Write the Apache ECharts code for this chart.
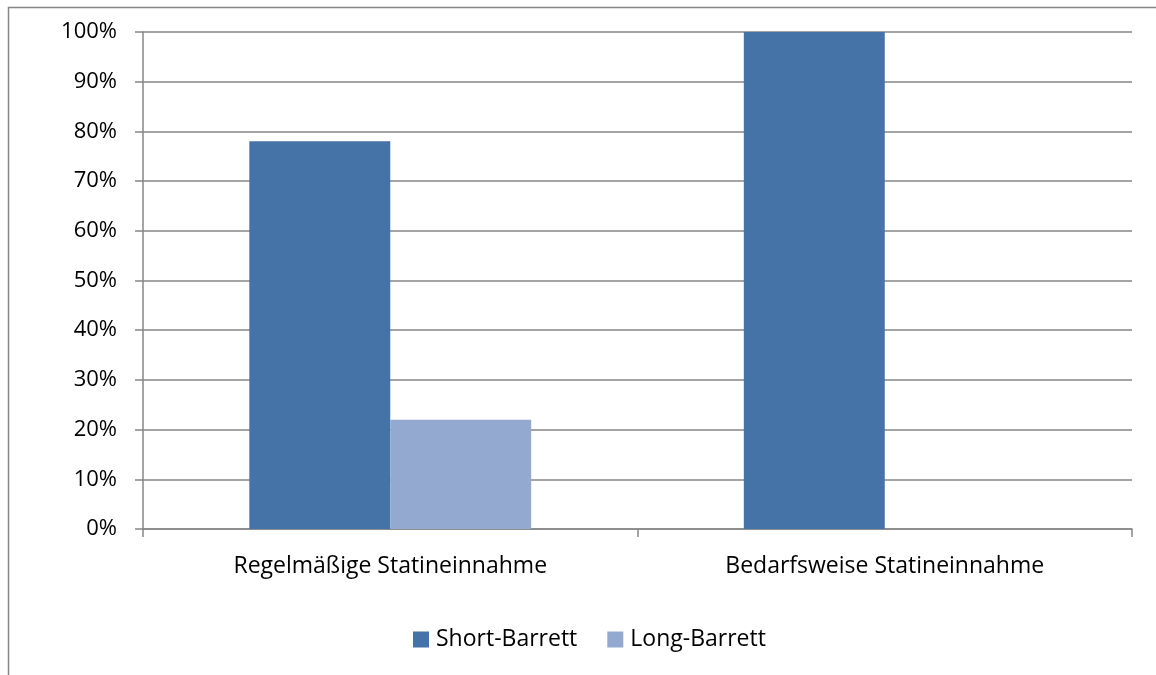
<!DOCTYPE html>
<html>
<head>
<meta charset="utf-8">
<script src="https://cdn.jsdelivr.net/npm/echarts@6/dist/echarts.min.js"></script>
<style>
  html, body { margin: 0; padding: 0; background: #fff; }
  #chart { width: 1156px; height: 675px; }
</style>
</head>
<body>
<div id="chart"></div>
<script>
// Statineinnahme nach Barrett-Typ (Anteil in %)
const categories = ['Regelmäßige Statineinnahme', 'Bedarfsweise Statineinnahme'];
const shortBarrett = [78, 100];
const longBarrett = [22, 0];
const seriesNames = ['Short-Barrett', 'Long-Barrett'];

const FONT = 'Open Sans';
const chart = echarts.init(document.getElementById('chart'), null, { renderer: 'canvas' });

chart.setOption({
  animation: false,
  backgroundColor: '#ffffff',
  textStyle: { fontFamily: FONT, color: '#000' },
  graphic: [{
    type: 'rect',
    shape: { x: 8.5, y: 7.5, width: 1200, height: 700 },
    style: { fill: 'none', stroke: '#868686', lineWidth: 1.5 },
    silent: true,
    z: -1
  }],
  grid: { left: 143, right: 24, top: 32, bottom: 146, containLabel: false },
  legend: {
    bottom: 19,
    left: 408,
    padding: 5,
    itemWidth: 16,
    itemHeight: 16,
    itemGap: 30,
    icon: 'rect',
    textStyle: { fontFamily: FONT, fontSize: 23, color: '#000', padding: [0, 0, 0, 2] },
    data: seriesNames
  },
  xAxis: {
    type: 'category',
    data: categories,
    axisLine: { lineStyle: { color: '#868686', width: 1.5 } },
    axisTick: { show: true, length: 8, alignWithLabel: false, lineStyle: { color: '#868686', width: 1.5 } },
    axisLabel: { fontFamily: FONT, fontSize: 23, color: '#000', margin: 26 }
  },
  yAxis: {
    type: 'value',
    min: 0,
    max: 100,
    interval: 10,
    axisLine: { show: true, lineStyle: { color: '#868686', width: 1.5 } },
    axisTick: { show: true, length: 8, lineStyle: { color: '#868686', width: 1.5 } },
    axisLabel: { fontFamily: FONT, fontSize: 22, color: '#000', margin: 26, formatter: '{value}%' },
    splitLine: { show: true, lineStyle: { color: '#868686', width: 1.5 } }
  },
  series: [
    {
      name: seriesNames[0],
      type: 'bar',
      data: shortBarrett,
      barGap: '0%',
      barCategoryGap: '43%',
      itemStyle: { color: '#4572a7' }
    },
    {
      name: seriesNames[1],
      type: 'bar',
      data: longBarrett,
      itemStyle: { color: '#93a9cf' }
    }
  ]
});
</script>
</body>
</html>
